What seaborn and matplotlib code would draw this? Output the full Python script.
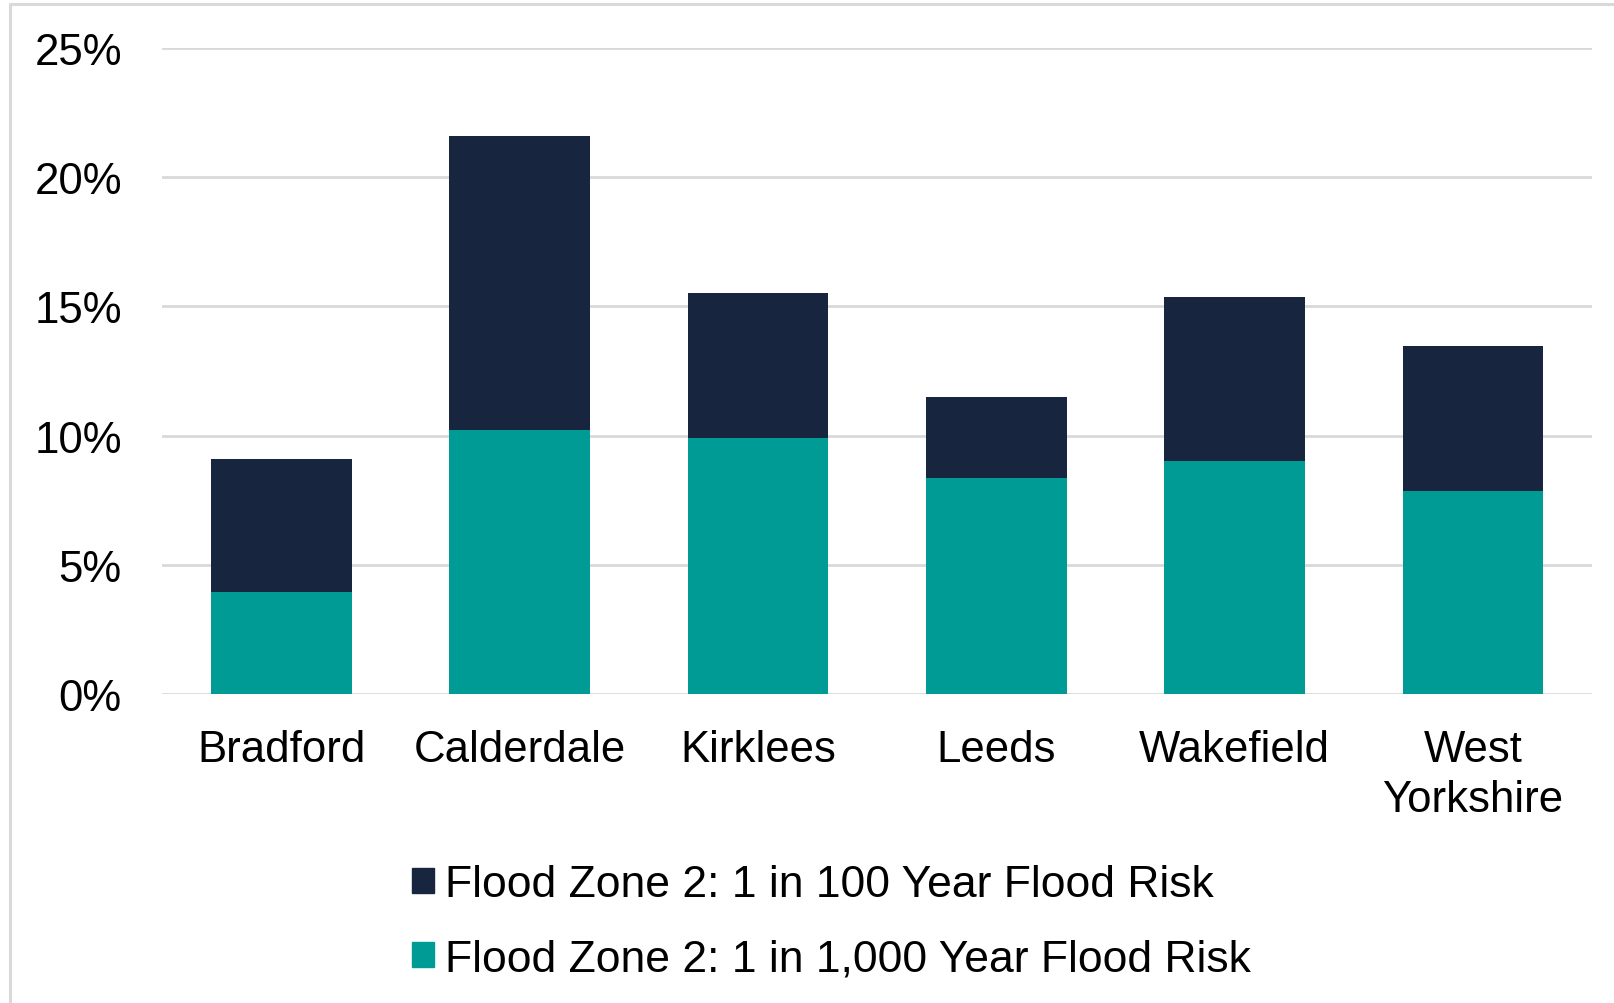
import matplotlib.pyplot as plt
import matplotlib.lines as mlines
import matplotlib.patches as mpatches
import seaborn as sns
import pandas as pd

sns.set_style('white')
plt.rcParams['font.family'] = ['Liberation Sans', 'DejaVu Sans']
plt.rcParams['text.color'] = 'black'
plt.rcParams['xtick.color'] = 'black'
plt.rcParams['ytick.color'] = 'black'

# data (percent of area)
areas = ['Bradford', 'Calderdale', 'Kirklees', 'Leeds', 'Wakefield', 'West\nYorkshire']
zone_1000 = [3.95, 10.23, 9.9, 8.35, 9.02, 7.87]
zone_100 = [5.15, 11.37, 5.6, 3.15, 6.35, 5.61]
yticks = [0, 5, 10, 15, 20, 25]
label_100 = 'Flood Zone 2: 1 in 100 Year Flood Risk'
label_1000 = 'Flood Zone 2: 1 in 1,000 Year Flood Risk'

navy = '#18253f'
teal = '#009b94'

df = pd.DataFrame({'area': areas, 'z1000': zone_1000, 'z100': zone_100})
df['total'] = df['z1000'] + df['z100']

fig = plt.figure(figsize=(16.14, 10.04), dpi=100)
ax = fig.add_axes([0.1004, 0.3078, 0.886, 0.6434])

# stacked bars: draw totals, then lower segment on top
sns.barplot(data=df, x='area', y='total', color=navy, width=0.59, saturation=1,
            linewidth=0, ax=ax, zorder=3)
sns.barplot(data=df, x='area', y='z1000', color=teal, width=0.59, saturation=1,
            linewidth=0, ax=ax, zorder=4)

ax.set_ylim(0, 25)
ax.set_xlim(-0.5, len(areas) - 0.5)
ax.set_yticks(yticks)
ax.set_yticklabels([f'{t}%' for t in yticks])
ax.yaxis.grid(True, color='#d9d9d9', linewidth=2.0, zorder=0)
ax.set_axisbelow(True)
for s in ax.spines.values():
    s.set_visible(False)
ax.tick_params(axis='y', length=0, pad=29, labelsize=31.5)
ax.tick_params(axis='x', length=0, pad=25, labelsize=31.5)
for lab in ax.get_xticklabels():
    lab.set_linespacing(1.3)
ax.set(xlabel=None, ylabel=None)

# legend below the chart
handles = [mpatches.Patch(color=navy, label=label_100),
           mpatches.Patch(color=teal, label=label_1000)]
fig.legend(handles=handles, loc='center', bbox_to_anchor=(0.515, 0.081),
           frameon=False, fontsize=32, handlelength=0.5, handleheight=0.5,
           handletextpad=0.25, labelspacing=0.75, borderpad=0, borderaxespad=0)

# light frame round the figure
fig.add_artist(mlines.Line2D([10 / 1614, 10 / 1614], [0, 1 - 5 / 1004],
                             color='#d9d9d9', linewidth=2.2, transform=fig.transFigure))
fig.add_artist(mlines.Line2D([10 / 1614, 1], [1 - 5 / 1004, 1 - 5 / 1004],
                             color='#d9d9d9', linewidth=2.2, transform=fig.transFigure))

fig.savefig('out.png', dpi=100)
